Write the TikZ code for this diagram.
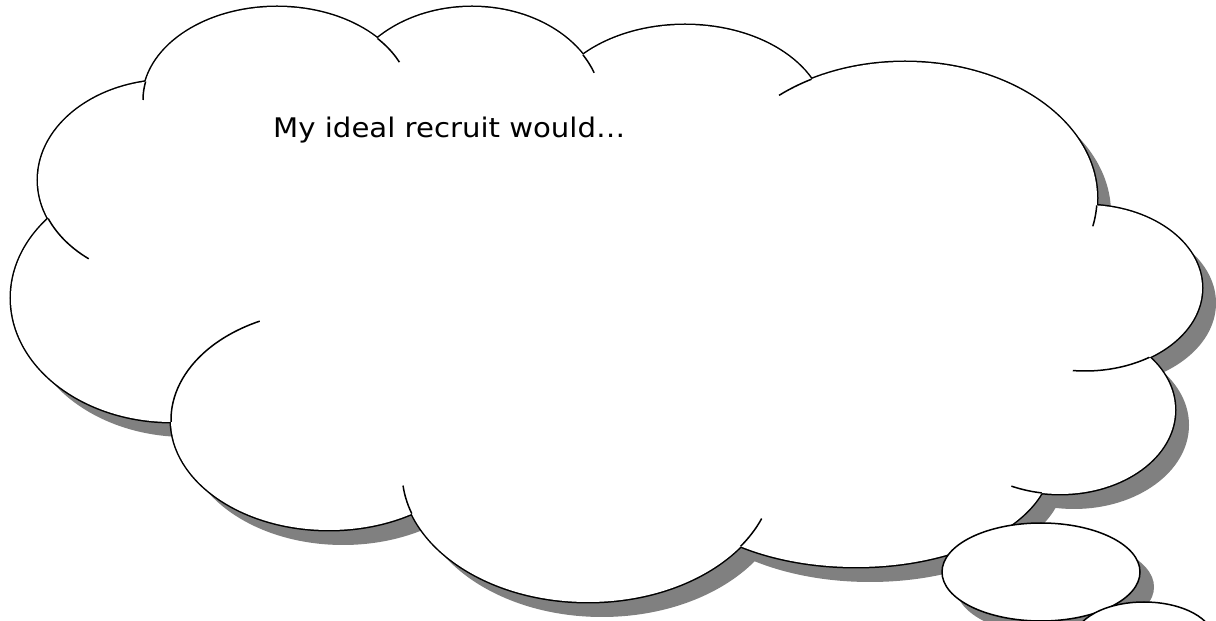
\documentclass[tikz,border=0pt]{standalone}
\usepackage{fontspec}
\setmainfont{DejaVu Sans}
\definecolor{shadowgray}{HTML}{808080}
\newcommand\innerarc[8]{\begin{scope}\clip (#1) ellipse[x radius=#2pt,y radius=#3pt];\draw[outl] (#4) ++(#7:#5pt and #6pt) arc[start angle=#7,end angle=#8,x radius=#5pt,y radius=#6pt];\end{scope}}
\begin{document}
\begin{tikzpicture}[x=1pt,y=1pt,outl/.style={line width=1.5pt,black}]
\clip (0,0) rectangle (1216,621);
\fill[white] (0,0) rectangle (1216,621);
% lobe centres
\coordinate (T1) at (277,521);
\coordinate (T2) at (472,514);
\coordinate (T3) at (685,501);
\coordinate (R1) at (905,423);
\coordinate (R2) at (1085,333);
\coordinate (R3) at (1060,211);
\coordinate (B3) at (856,161);
\coordinate (B2) at (588,149);
\coordinate (B1) at (329,201);
\coordinate (L3) at (172,323);
\coordinate (L2) at (170,441);
\coordinate (M) at (1041,49);
\coordinate (S) at (1144,-19);
\def\lobelist{T1/134/93, T2/130/100, T3/140/95, R1/192/136, R2/117/83, R3/115/84, B3/195/107, B2/186/130, B1/158/110, L3/161/124, L2/132/100}
% shadows
\foreach \n/\rx/\ry in \lobelist {\fill[shadowgray] ([shift={(14,-15)}]\n) ellipse[x radius=\rx pt,y radius=\ry pt];}
\fill[shadowgray,shift={(14,-15)}] (T1) -- (T2) -- (T3) -- (R1) -- (R2) -- (R3) -- (B3) -- (B2) -- (B1) -- (L3) -- (L2) -- cycle;
\fill[shadowgray] ([shift={(14,-15)}]M) ellipse[x radius=99pt,y radius=49pt];
\fill[shadowgray] ([shift={(14,-15)}]S) ellipse[x radius=70pt,y radius=38pt];
% outline (outer half of a double-width stroke)
\foreach \n/\rx/\ry in \lobelist {\draw[line width=3pt] (\n) ellipse[x radius=\rx pt,y radius=\ry pt];}
\foreach \n/\rx/\ry in \lobelist {\fill[white] (\n) ellipse[x radius=\rx pt,y radius=\ry pt];}
\fill[white] (T1) -- (T2) -- (T3) -- (R1) -- (R2) -- (R3) -- (B3) -- (B2) -- (B1) -- (L3) -- (L2) -- cycle;
% inner arc ends
\innerarc{L2}{132}{100}{T1}{134}{93}{150}{180}
\innerarc{T2}{130}{100}{T1}{134}{93}{50}{24}
\innerarc{T3}{140}{95}{T2}{130}{100}{50}{20}
\innerarc{T3}{140}{95}{R1}{192}{136}{100}{131}
\innerarc{R2}{117}{83}{R1}{192}{136}{10}{-12}
\innerarc{R3}{115}{84}{R2}{117}{83}{-30}{-96}
\innerarc{B3}{195}{107}{R3}{115}{84}{-80}{-115}
\innerarc{B3}{195}{107}{B2}{186}{130}{-45}{-21}
\innerarc{B1}{158}{110}{B2}{186}{130}{210}{186}
\innerarc{L3}{161}{124}{B1}{158}{110}{116}{200}
\innerarc{L3}{161}{124}{L2}{132}{100}{200}{232}
% thought bubbles
\draw[outl,fill=white] (M) ellipse[x radius=99pt,y radius=49pt];
\draw[outl,fill=white] (S) ellipse[x radius=70pt,y radius=38pt];
% text
\node[font=\fontsize{27}{32}\selectfont,anchor=base west,inner sep=0pt,xscale=1.08] (title) at (273,483) {My ideal recruit would…};
\end{tikzpicture}
\end{document}
